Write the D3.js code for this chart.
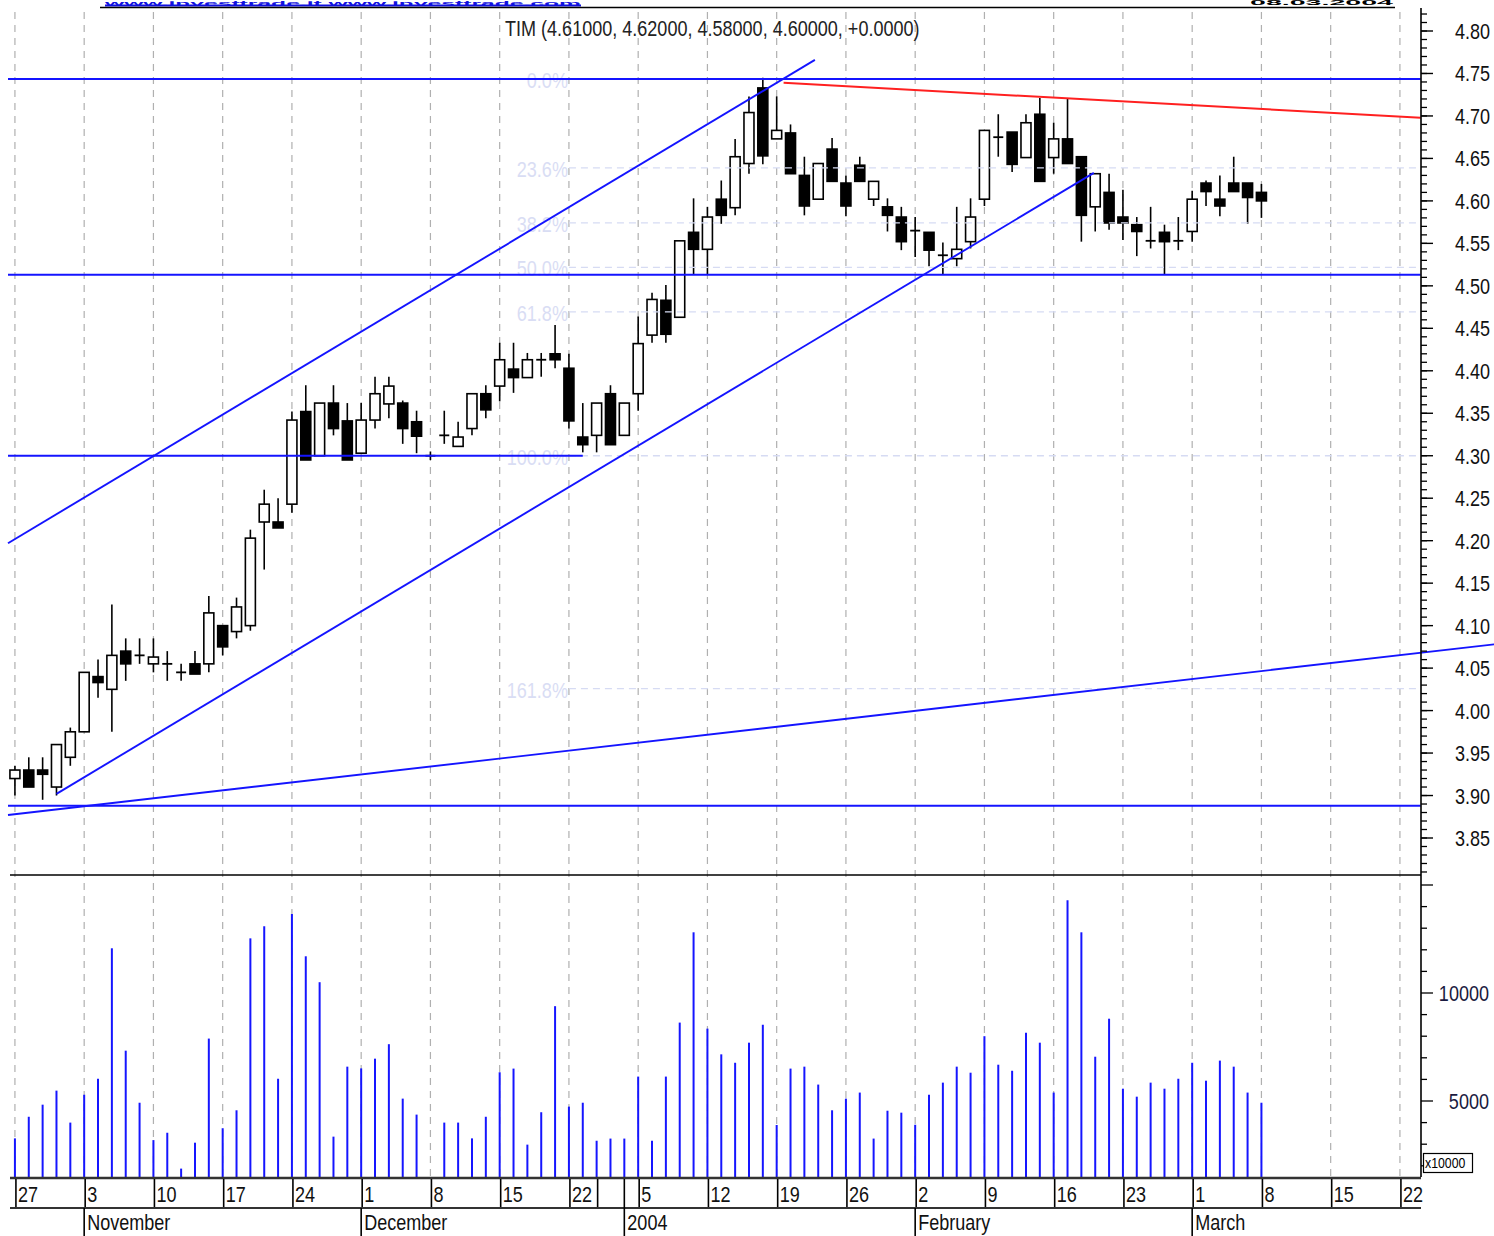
<!DOCTYPE html>
<html><head><meta charset="utf-8">
<script src="https://cdn.jsdelivr.net/npm/d3@7"></script>
<style>
body{margin:0;background:#fff;}
svg{display:block;}
text{font-family:"Liberation Sans","Arial",sans-serif;}
</style></head><body>
<svg id="chart" width="1494" height="1236"></svg>
<script>
// ---------------- DATA ----------------
const dates = [
"2003-10-27","2003-10-28","2003-10-29","2003-10-30","2003-10-31",
"2003-11-03","2003-11-04","2003-11-05","2003-11-06","2003-11-07",
"2003-11-10","2003-11-11","2003-11-12","2003-11-13","2003-11-14",
"2003-11-17","2003-11-18","2003-11-19","2003-11-20","2003-11-21",
"2003-11-24","2003-11-25","2003-11-26","2003-11-27","2003-11-28",
"2003-12-01","2003-12-02","2003-12-03","2003-12-04","2003-12-05",
"2003-12-08","2003-12-09","2003-12-10","2003-12-11","2003-12-12",
"2003-12-15","2003-12-16","2003-12-17","2003-12-18","2003-12-19",
"2003-12-22","2003-12-23","2003-12-29","2003-12-30","2004-01-02",
"2004-01-05","2004-01-06","2004-01-07","2004-01-08","2004-01-09",
"2004-01-12","2004-01-13","2004-01-14","2004-01-15","2004-01-16",
"2004-01-19","2004-01-20","2004-01-21","2004-01-22","2004-01-23",
"2004-01-26","2004-01-27","2004-01-28","2004-01-29","2004-01-30",
"2004-02-02","2004-02-03","2004-02-04","2004-02-05","2004-02-06",
"2004-02-09","2004-02-10","2004-02-11","2004-02-12","2004-02-13",
"2004-02-16","2004-02-17","2004-02-18","2004-02-19","2004-02-20",
"2004-02-23","2004-02-24","2004-02-25","2004-02-26","2004-02-27",
"2004-03-01","2004-03-02","2004-03-03","2004-03-04","2004-03-05",
"2004-03-08"];
const futureDates = ["2004-03-09","2004-03-10","2004-03-11","2004-03-12",
"2004-03-15","2004-03-16","2004-03-17","2004-03-18","2004-03-19",
"2004-03-22","2004-03-23"];

const open = [3.92,3.93,3.93,3.91,3.945, 3.975,4.04,4.025,4.07,4.065,
4.055,4.055,4.045,4.055,4.055, 4.10,4.093,4.10,4.222,4.222,
4.243,4.352,4.30,4.362,4.341, 4.303,4.342,4.361,4.362,4.34,
4.30,4.324,4.311,4.332,4.373, 4.382,4.402,4.392,4.413,4.42,
4.403,4.322,4.324,4.373,4.324, 4.373,4.442,4.483,4.463,4.563,
4.543,4.602,4.592,4.644,4.733, 4.673,4.68,4.63,4.602,4.661,
4.621,4.642,4.602,4.593,4.581, 4.565,4.563,4.536,4.532,4.552,
4.602,4.675,4.681,4.651,4.702, 4.651,4.673,4.652,4.593,4.61,
4.581,4.572,4.553,4.563,4.553, 4.564,4.621,4.602,4.621,4.621,
4.61];
const high = [3.935,3.945,3.945,3.96,3.98, 4.045,4.06,4.125,4.085,4.085,
4.085,4.07,4.055,4.07,4.135, 4.10,4.133,4.213,4.26,4.25,
4.352,4.383,4.362,4.383,4.362, 4.362,4.393,4.393,4.365,4.353,
4.305,4.353,4.34,4.373,4.383, 4.433,4.433,4.421,4.421,4.454,
4.42,4.362,4.362,4.383,4.362, 4.464,4.492,4.501,4.553,4.603,
4.593,4.624,4.673,4.723,4.745, 4.723,4.69,4.652,4.644,4.674,
4.63,4.652,4.623,4.603,4.593, 4.581,4.563,4.551,4.593,4.603,
4.683,4.702,4.681,4.702,4.721, 4.692,4.721,4.652,4.632,4.632,
4.613,4.581,4.593,4.572,4.581, 4.612,4.624,4.63,4.652,4.621,
4.62];
const low = [3.90,3.91,3.895,3.90,3.935, 3.975,4.015,3.975,4.035,4.055,
4.045,4.035,4.035,4.043,4.045, 4.065,4.085,4.094,4.166,4.215,
4.233,4.295,4.30,4.324,4.295, 4.303,4.332,4.344,4.314,4.303,
4.295,4.314,4.311,4.324,4.344, 4.364,4.374,4.392,4.393,4.403,
4.332,4.304,4.304,4.313,4.324, 4.353,4.433,4.433,4.463,4.513,
4.513,4.573,4.583,4.632,4.643, 4.673,4.632,4.583,4.602,4.623,
4.582,4.623,4.594,4.564,4.542, 4.534,4.523,4.513,4.523,4.544,
4.594,4.652,4.634,4.651,4.623, 4.632,4.644,4.552,4.564,4.566,
4.554,4.535,4.544,4.513,4.542, 4.552,4.594,4.582,4.611,4.573,
4.58];
const close = [3.93,3.91,3.925,3.96,3.975, 4.045,4.033,4.065,4.055,4.065,
4.063,4.055,4.045,4.043,4.115, 4.075,4.122,4.203,4.243,4.215,
4.342,4.295,4.362,4.332,4.295, 4.342,4.373,4.382,4.332,4.323,
4.30,4.324,4.322,4.373,4.354, 4.413,4.392,4.413,4.413,4.413,
4.341,4.313,4.362,4.313,4.362, 4.432,4.484,4.443,4.553,4.543,
4.581,4.583,4.652,4.704,4.653, 4.683,4.632,4.594,4.644,4.623,
4.594,4.623,4.623,4.583,4.552, 4.565,4.542,4.536,4.543,4.581,
4.683,4.675,4.643,4.692,4.623, 4.673,4.644,4.583,4.632,4.574,
4.574,4.564,4.553,4.552,4.553, 4.602,4.611,4.594,4.611,4.604,
4.60];
const volume = [3270,4270,4830,5480,4000, 5290,6030,12070,7330,4920,
3190,3530,1870,3070,7890, 3740,4570,12530,13090,6030,
13660,11700,10500,3350,6590, 6510,6960,7630,5110,4370,
0,4000,4000,3270,4270, 6330,6500,2980,4480,9390,
4740,4920,3160,3260,3260, 6130,3160,6130,8630,12810,
8350,7160,6770,7700,8530, 3890,6500,6590,5760,4570,
5110,5390,3260,4550,4460, 3900,5290,5850,6590,6310,
8000,6680,6400,8160,7700, 5390,14290,12810,7050,8810,
5570,5200,5850,5570,6030, 6770,5940,6870,6590,5390,
4920];

const priceTicks = [4.80,4.75,4.70,4.65,4.60,4.55,4.50,4.45,4.40,4.35,4.30,4.25,4.20,4.15,4.10,4.05,4.00,3.95,3.90,3.85];
const priceTickLabels = ["4.80","4.75","4.70","4.65","4.60","4.55","4.50","4.45","4.40","4.35","4.30","4.25","4.20","4.15","4.10","4.05","4.00","3.95","3.90","3.85"];
const volumeTicks = [5000,10000];
const volumeTickLabels = ["5000","10000"];
const weekTickDates = ["2003-10-27","2003-11-03","2003-11-10","2003-11-17","2003-11-24","2003-12-01","2003-12-08","2003-12-15","2003-12-22","2003-12-29","2004-01-05","2004-01-12","2004-01-19","2004-01-26","2004-02-02","2004-02-09","2004-02-16","2004-02-23","2004-03-01","2004-03-08","2004-03-15","2004-03-22"];
const weekTickLabels = ["27","3","10","17","24","1","8","15","22","","5","12","19","26","2","9","16","23","1","8","15","22"];
const monthTickDates = ["2003-11-03","2003-12-01","2004-01-02","2004-02-02","2004-03-01"];
const monthTickLabels = ["November","December","2004","February","March"];

// Fibonacci retracement (swing high / swing low)
const fibHigh = 4.7435, fibLow = 4.30;
const fibLevels = [0, 0.236, 0.382, 0.5, 0.618, 1.0, 1.618];
const fibLabels = ["0.0%","23.6%","38.2%","50.0%","61.8%","100.0%","161.8%"];

// trend lines: [startIndex, startPrice, endIndex, endPrice]
const blueLines = [
  [-0.5, 4.197, 57.76, 4.766],   // upper channel
  [3, 3.902, 77.9, 4.633],       // lower channel
  [-0.5, 3.877, 106.8, 4.078],   // long support
  [-0.5, 4.7435, 101.5, 4.7435], // resistance
  [-0.5, 4.513, 101.5, 4.513],   // support
  [-0.5, 4.30, 41, 4.30],        // support
  [-0.5, 3.888, 101.5, 3.888]    // base
];
const redLines = [[55.5, 4.739, 101.5, 4.698]];

const title = "TIM (4.61000, 4.62000, 4.58000, 4.60000, +0.0000)";
const siteText = "www.investtrade.it  www.investtrade.com";
const dateText = "08.03.2004";

// ---------------- CHART ----------------
const svg = d3.select("#chart");
const allDates = dates.concat(futureDates);
const N = allDates.length;
const plotL = 8, plotR = 1420.7, axisX = 1421;
const xBand = d3.scaleBand().domain(allDates).range([plotL, plotR]).paddingInner(0).paddingOuter(0);
const step = xBand.step();
const xi = d3.scaleLinear().domain([-0.5, N - 0.5]).range([plotL, plotR]);
const xc = d => xBand(d) + step / 2;
const y = d3.scaleLinear().domain([3.85, 4.80]).range([838, 31]);
const yv = d3.scaleLinear().domain([5000, 10000]).range([1101, 993]);
const volTop = 875, volBottom = 1177;
const NX = 0.82; // narrow font factor
const tr = (x, yy) => `translate(${x},${yy}) scale(${NX},1)`;

const BLUE = "#1414ff";

// header (site + date, squeezed into the top strip)
svg.append("text").attr("x", 105).attr("y", 5.5).attr("fill", "#1010e0")
  .attr("font-weight", "bold").attr("font-size", 7)
  .attr("textLength", 476).attr("lengthAdjust", "spacingAndGlyphs")
  .text(siteText);
svg.append("line").attr("x1", 105).attr("x2", 581).attr("y1", 5.5).attr("y2", 5.5)
  .attr("stroke", "#1010e0").attr("stroke-width", 1.8);
svg.append("text").attr("x", 1250).attr("y", 5).attr("font-weight", "bold").attr("font-size", 7)
  .attr("textLength", 143).attr("lengthAdjust", "spacingAndGlyphs")
  .attr("fill", "#000").text(dateText);
svg.append("line").attr("x1", 100).attr("x2", 1395).attr("y1", 7.5).attr("y2", 7.5)
  .attr("stroke", "#000").attr("stroke-width", 1.5);

// vertical grid (every 5 bars)
const gridIdx = d3.range(0, N, 5);
svg.append("g").selectAll("line").data(gridIdx).join("line")
  .attr("x1", i => xi(i)).attr("x2", i => xi(i))
  .attr("y1", 12).attr("y2", volBottom)
  .attr("stroke", "#b0b0b0").attr("stroke-width", 1.2).attr("stroke-dasharray", "7,6");

// title
svg.append("text").attr("transform", tr(505, 36)).attr("font-size", 22).attr("fill", "#222").text(title);

// candles
const cg = svg.append("g");
const idx = d3.range(dates.length);
const bw = 5;
cg.selectAll("line.wick").data(idx).join("line").attr("class", "wick")
  .attr("x1", i => xc(dates[i])).attr("x2", i => xc(dates[i]))
  .attr("y1", i => y(high[i])).attr("y2", i => y(low[i]))
  .attr("stroke", "#000").attr("stroke-width", 1.6);
cg.selectAll("rect.body").data(idx.filter(i => open[i] !== close[i])).join("rect").attr("class", "body")
  .attr("x", i => xc(dates[i]) - bw).attr("width", bw * 2)
  .attr("y", i => y(Math.max(open[i], close[i])))
  .attr("height", i => Math.abs(y(open[i]) - y(close[i])))
  .attr("fill", i => close[i] >= open[i] ? "#fff" : "#000")
  .attr("stroke", "#000").attr("stroke-width", 1.6);
cg.selectAll("line.doji").data(idx.filter(i => open[i] === close[i])).join("line").attr("class", "doji")
  .attr("x1", i => xc(dates[i]) - bw).attr("x2", i => xc(dates[i]) + bw)
  .attr("y1", i => y(close[i])).attr("y2", i => y(close[i]))
  .attr("stroke", "#000").attr("stroke-width", 1.8);

// fibonacci
const fg = svg.append("g");
const fibPrice = f => fibHigh - f * (fibHigh - fibLow);
fg.selectAll("line").data(fibLevels).join("line")
  .attr("x1", xi(40)).attr("x2", plotR)
  .attr("y1", f => y(fibPrice(f))).attr("y2", f => y(fibPrice(f)))
  .attr("stroke", "#d6dbf3").attr("stroke-width", 1.3).attr("stroke-dasharray", "7,5");
fg.selectAll("text").data(fibLevels).join("text")
  .attr("transform", f => tr(xi(40) - 1, y(fibPrice(f)) + 9))
  .attr("text-anchor", "end").attr("font-size", 22).attr("fill", "#d9ddf4")
  .text((f, k) => fibLabels[k]);

// trend lines
const lg = svg.append("g");
lg.selectAll("line.b").data(blueLines).join("line").attr("class", "b")
  .attr("x1", d => xi(d[0])).attr("y1", d => y(d[1]))
  .attr("x2", d => xi(d[2])).attr("y2", d => y(d[3]))
  .attr("stroke", BLUE).attr("stroke-width", 1.9);
lg.selectAll("line.r").data(redLines).join("line").attr("class", "r")
  .attr("x1", d => xi(d[0])).attr("y1", d => y(d[1]))
  .attr("x2", d => xi(d[2])).attr("y2", d => y(d[3]))
  .attr("stroke", "#ff2020").attr("stroke-width", 2);

// volume bars
svg.append("g").selectAll("line").data(idx.filter(i => volume[i] > 0)).join("line")
  .attr("x1", i => xc(dates[i])).attr("x2", i => xc(dates[i]))
  .attr("y1", volBottom).attr("y2", i => yv(volume[i]))
  .attr("stroke", "#1515ff").attr("stroke-width", 2);

// pane separators
svg.append("line").attr("x1", 10).attr("x2", axisX).attr("y1", volTop).attr("y2", volTop)
  .attr("stroke", "#000").attr("stroke-width", 1.6);
svg.append("line").attr("x1", 10).attr("x2", axisX).attr("y1", volBottom + 1).attr("y2", volBottom + 1)
  .attr("stroke", "#333").attr("stroke-width", 2.5);

// right price axis
svg.append("line").attr("x1", axisX).attr("x2", axisX).attr("y1", 8).attr("y2", volBottom)
  .attr("stroke", "#000").attr("stroke-width", 1.6);
const minorP = d3.range(381, 483).map(v => v / 100);
svg.append("g").selectAll("line").data(minorP).join("line")
  .attr("x1", axisX).attr("x2", axisX + 6).attr("y1", v => y(v)).attr("y2", v => y(v))
  .attr("stroke", "#000").attr("stroke-width", 1.3);
svg.append("g").selectAll("line").data(priceTicks).join("line")
  .attr("x1", axisX).attr("x2", axisX + 12).attr("y1", v => y(v)).attr("y2", v => y(v))
  .attr("stroke", "#000").attr("stroke-width", 1.4);
svg.append("g").selectAll("text").data(priceTicks).join("text")
  .attr("transform", v => tr(1490, y(v) + 8)).attr("text-anchor", "end")
  .attr("font-size", 22).attr("fill", "#111").text((v, k) => priceTickLabels[k]);

// right volume axis
const minorV = d3.range(2000, 16000, 1000);
svg.append("g").selectAll("line").data(minorV).join("line")
  .attr("x1", axisX).attr("x2", v => axisX + (v % 5000 === 0 ? 12 : 6))
  .attr("y1", v => yv(v)).attr("y2", v => yv(v))
  .attr("stroke", "#000").attr("stroke-width", 1.3);
svg.append("g").selectAll("text").data(volumeTicks).join("text")
  .attr("transform", v => tr(1489, yv(v) + 8)).attr("text-anchor", "end")
  .attr("font-size", 22).attr("fill", "#1a1a40").text((v, k) => volumeTickLabels[k]);
svg.append("rect").attr("x", 1423.5).attr("y", 1153.5).attr("width", 49).attr("height", 19)
  .attr("fill", "#fff").attr("stroke", "#000").attr("stroke-width", 1.2);
svg.append("text").attr("transform", tr(1425, 1168)).attr("font-size", 15).attr("fill", "#000").text("x10000");

// date axis
const dateRowTop = volBottom + 2, dateRowBottom = 1208;
const wk = svg.append("g");
wk.selectAll("line").data(weekTickDates).join("line")
  .attr("x1", d => xc(d) + 1).attr("x2", d => xc(d) + 1)
  .attr("y1", dateRowTop).attr("y2", dateRowBottom)
  .attr("stroke", "#000").attr("stroke-width", 1.6);
wk.selectAll("text").data(weekTickDates).join("text")
  .attr("transform", d => tr(xc(d) + 3, 1202))
  .attr("font-size", 22).attr("fill", "#111").text((d, k) => weekTickLabels[k]);
svg.append("line").attr("x1", 10).attr("x2", axisX).attr("y1", dateRowBottom).attr("y2", dateRowBottom)
  .attr("stroke", "#333").attr("stroke-width", 2.2);
const mo = svg.append("g");
mo.selectAll("line").data(monthTickDates).join("line")
  .attr("x1", d => xc(d)).attr("x2", d => xc(d))
  .attr("y1", d => d.endsWith("01-02") ? dateRowTop : dateRowBottom).attr("y2", 1236)
  .attr("stroke", "#000").attr("stroke-width", 1.6);
mo.selectAll("text").data(monthTickDates).join("text")
  .attr("transform", d => tr(xc(d) + 3, 1230))
  .attr("font-size", 22).attr("fill", "#111").text((d, k) => monthTickLabels[k]);
</script>
</body></html>
